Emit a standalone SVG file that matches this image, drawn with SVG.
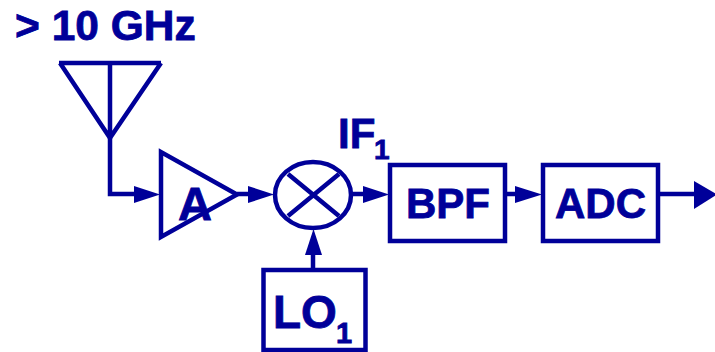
<svg xmlns="http://www.w3.org/2000/svg" width="715" height="352" viewBox="0 0 715 352">
<style>
.s{fill:none;stroke:#000099;stroke-width:4.500}
.a{fill:#000099;stroke:none}
text{font-family:"Liberation Sans",Arial,sans-serif;font-weight:bold;fill:#000099;stroke:#000099;stroke-width:0.800}
</style>
<rect width="715" height="352" fill="#fff"/>
<g id="connectors">
<path class="s" d="M110 138V194H135"/>
<path class="a" d="M134 186L160 194.500L134 203Z"/>
<path class="s" d="M237 194H249"/>
<path class="a" d="M248 186L274 194.500L248 203Z"/>
<path class="s" d="M313 270V254"/>
<path class="a" d="M305 255L313.500 229L322 255Z"/>
<path class="s" d="M352 194H364"/>
<path class="a" d="M363 186L389 194.500L363 203Z"/>
<path class="s" d="M507 194H517"/>
<path class="a" d="M515 186L542 194.500L515 203Z"/>
<path class="s" d="M660 194H695"/>
<path class="a" d="M694 181L717 194.500L694 209Z"/>
</g>
<g id="label-freq"><text x="15" y="40" font-size="42.500">&gt; 10 GHz</text></g>
<g id="antenna"><path class="s" d="M59 63H161M60 63L110 138L161 63M110 63V138"/></g>
<g id="amplifier"><path class="s" d="M161 152V237L237 194.500Z"/><text x="178" y="220" font-size="47">A</text></g>
<g id="mixer"><ellipse class="s" cx="313" cy="195" rx="38" ry="33"/><path class="s" d="M288 174L339 216M288 216L339 174"/></g>
<g id="label-if"><text x="338" y="148" font-size="42">IF</text><text x="374" y="159" font-size="28">1</text></g>
<g id="lo"><rect class="s" x="263.500" y="270" width="102" height="80"/><text x="273" y="328" font-size="46">LO</text><text x="336" y="343" font-size="29">1</text></g>
<g id="bpf"><rect class="s" x="390" y="165" width="115" height="76"/><text x="406" y="218" font-size="42">BPF</text></g>
<g id="adc"><rect class="s" x="543" y="165" width="115" height="76"/><text x="555" y="218" font-size="42">ADC</text></g>
</svg>
